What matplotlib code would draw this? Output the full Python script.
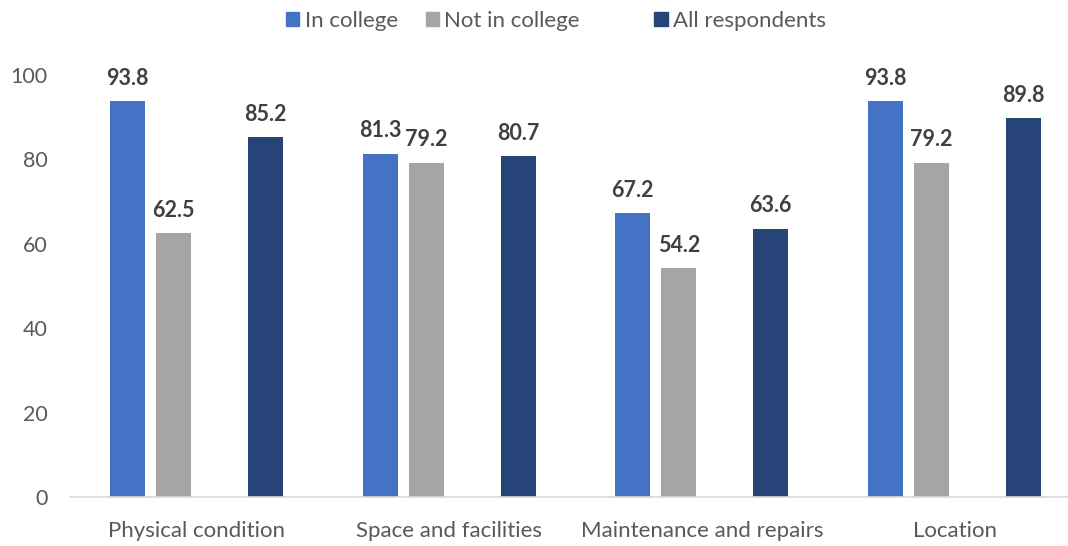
import matplotlib
matplotlib.use("Agg")
import matplotlib.pyplot as plt
from matplotlib.patches import Patch
import numpy as np

plt.rcParams['font.family'] = ['Lato', 'DejaVu Sans']

categories = ["Physical condition", "Space and facilities",
              "Maintenance and repairs", "Location"]
series_names = ["In college", "Not in college", "All respondents"]
in_college = [93.8, 81.3, 67.2, 93.8]
not_in_college = [62.5, 79.2, 54.2, 79.2]
all_respondents = [85.2, 80.7, 63.6, 89.8]
y_ticks = [0, 20, 40, 60, 80, 100]

colors = ["#4472C4", "#A5A5A5", "#264478"]
values = [in_college, not_in_college, all_respondents]
# each group has four slots; the third slot is left empty
slots = [0, 1, 3]
n_slots = 4
slot_step = 0.182
bar_w = 0.1385

fig = plt.figure(figsize=(10.68, 5.46), dpi=100)
ax = fig.add_axes([70 / 1068, 49 / 546, 1 - 70 / 1068, 422 / 546])

x = np.arange(len(categories))
for vals, col, slot, name in zip(values, colors, slots, series_names):
    off = (slot - (n_slots - 1) / 2) * slot_step
    bars = ax.bar(x + off, vals, width=bar_w, color=col, label=name)
    ax.bar_label(bars, fmt="%.1f", padding=9, fontsize=15.5,
                 fontweight="bold", color="#404040")

ax.set_ylim(0, 100)
ax.set_xlim(-0.5, 3.449)
ax.set_yticks(y_ticks)
ax.set_xticks(x)
ax.set_xticklabels(categories)
ax.tick_params(axis="y", length=0, pad=16, labelsize=15.5, labelcolor="#595959")
ax.tick_params(axis="x", length=0, pad=17, labelsize=16, labelcolor="#595959")
for s in ["left", "top", "right"]:
    ax.spines[s].set_visible(False)
ax.spines["bottom"].set_color("#D9D9D9")
ax.spines["bottom"].set_linewidth(1.2)

handles = [Patch(color=colors[0]), Patch(color=colors[1]),
           Patch(facecolor="none", edgecolor="none"), Patch(color=colors[2])]
labels = [series_names[0], series_names[1], "", series_names[2]]
fig.legend(handles, labels, loc="center", bbox_to_anchor=(556 / 1068, 1 - 21 / 546),
           ncol=4, frameon=False, fontsize=16, handlelength=0.6, handleheight=0.6,
           handletextpad=0.25, columnspacing=1.25, labelcolor="#595959")

fig.savefig("out.png", dpi=100, facecolor="white")
